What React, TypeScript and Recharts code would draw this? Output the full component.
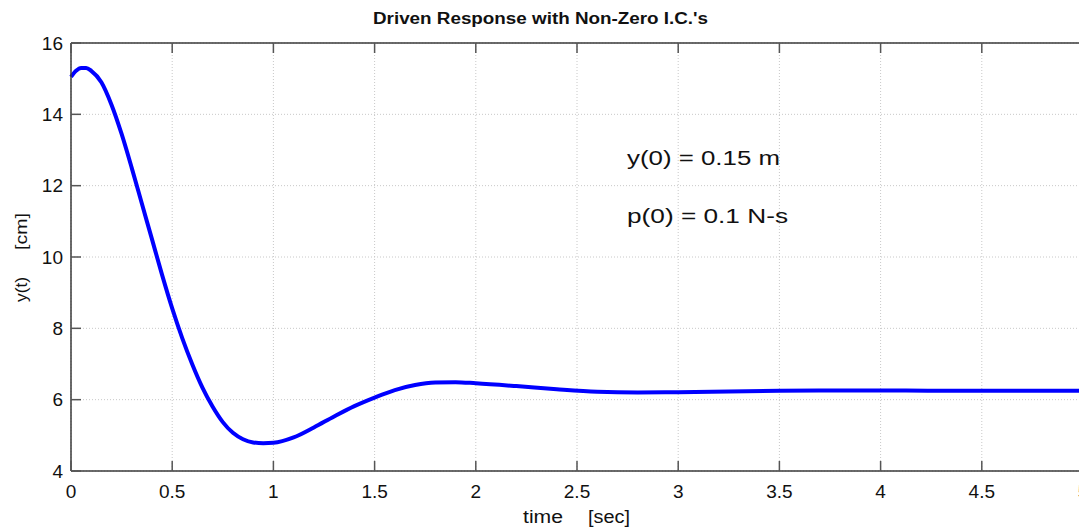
import { LineChart, Line, XAxis, YAxis, CartesianGrid } from 'recharts';

const times = [
  0, 0.025, 0.05, 0.075, 0.1, 0.15, 0.2, 0.25, 0.3, 0.35, 0.4, 0.45, 0.5, 0.55, 0.6, 0.65, 0.7,
  0.75, 0.8, 0.85, 0.9, 0.95, 1.0, 1.1, 1.2, 1.3, 1.4, 1.5, 1.6, 1.7, 1.8, 1.9,
  2.0, 2.2, 2.4, 2.6, 2.8, 3.0, 3.25, 3.5, 3.75, 4.0, 4.25, 4.5, 4.75, 5.0,
];
const response = [
  15.05, 15.22, 15.3, 15.3, 15.22, 14.9, 14.27, 13.45, 12.5, 11.5, 10.5, 9.5, 8.56, 7.72, 6.98, 6.33, 5.8,
  5.37, 5.07, 4.89, 4.8, 4.78, 4.79, 4.94, 5.22, 5.53, 5.82, 6.06, 6.27, 6.41, 6.48, 6.49,
  6.46, 6.38, 6.29, 6.22, 6.2, 6.21, 6.23, 6.25, 6.26, 6.26, 6.25, 6.25, 6.25, 6.25,
];
const xTicks = [0, 0.5, 1, 1.5, 2, 2.5, 3, 3.5, 4, 4.5, 5];
const yTicks = [4, 6, 8, 10, 12, 14, 16];

const data = times.map((t, i) => ({ t, y: response[i] }));

const FONT = '"Liberation Sans", Arial, sans-serif';
const AXIS = '#3a3a3a';
const TICK_LEN = 10;

const BottomTick = ({ x, y, payload }: any) => (
  <g>
    <line x1={x} y1={y} x2={x} y2={y - TICK_LEN} stroke="#555" strokeWidth={1.5} />
    <text x={x} y={y + 20} textAnchor="middle" dominantBaseline="central" fontSize={19} fontFamily={FONT} fill="#111">
      {payload.value}
    </text>
  </g>
);

const LeftTick = ({ x, y, payload }: any) => (
  <g>
    <line x1={x} y1={y} x2={x + TICK_LEN} y2={y} stroke="#555" strokeWidth={1.5} />
    <text x={x - 8} y={y} textAnchor="end" dominantBaseline="central" fontSize={19} fontFamily={FONT} fill="#111">
      {payload.value}
    </text>
  </g>
);

const TopTick = ({ x, y }: any) => (
  <line x1={x} y1={y} x2={x} y2={y + TICK_LEN} stroke="#555" strokeWidth={1.5} />
);

const RightTick = ({ x, y }: any) => (
  <line x1={x} y1={y} x2={x - TICK_LEN} y2={y} stroke="#555" strokeWidth={1.5} />
);

export default function App() {
  return (
    <div style={{ position: 'absolute', left: 0, top: 0, width: 1079, height: 527, overflow: 'hidden', background: '#fff' }}>
      <LineChart width={1100} height={527} data={data} margin={{ top: 0, right: 0, bottom: 0, left: 0 }}>
        <CartesianGrid xAxisId="bottom" yAxisId="left" stroke="#c8c8c8" strokeDasharray="1 2" />
        <XAxis
          xAxisId="bottom"
          dataKey="t"
          type="number"
          domain={[0, 5]}
          ticks={xTicks}
          height={56}
          tickSize={0}
          tickMargin={0}
          tickLine={false}
          stroke={AXIS}
          strokeWidth={1.5}
          tick={<BottomTick />}
          interval={0}
        />
        <XAxis
          xAxisId="top"
          orientation="top"
          dataKey="t"
          type="number"
          domain={[0, 5]}
          ticks={xTicks}
          height={43}
          tickSize={0}
          tickMargin={0}
          tickLine={false}
          stroke={AXIS}
          strokeWidth={1.5}
          tick={<TopTick />}
          interval={0}
        />
        <YAxis
          yAxisId="left"
          type="number"
          domain={[4, 16]}
          ticks={yTicks}
          width={71}
          tickSize={0}
          tickMargin={0}
          tickLine={false}
          stroke={AXIS}
          strokeWidth={1.5}
          tick={<LeftTick />}
          interval={0}
        />
        <YAxis
          yAxisId="right"
          orientation="right"
          type="number"
          domain={[4, 16]}
          ticks={yTicks}
          width={17}
          tickSize={0}
          tickMargin={0}
          tickLine={false}
          stroke={AXIS}
          strokeWidth={1.5}
          tick={<RightTick />}
          interval={0}
        />
        <Line
          xAxisId="bottom"
          yAxisId="left"
          dataKey="y"
          type="monotone"
          stroke="#0000ff"
          strokeWidth={4}
          dot={false}
          isAnimationActive={false}
        />
      </LineChart>
      <svg width={1079} height={527} style={{ position: 'absolute', left: 0, top: 0, pointerEvents: 'none' }}>
        <text x={373} y={18} dominantBaseline="central" fontSize={16} fontWeight="bold" fontFamily={FONT} fill="#111" textLength={335} lengthAdjust="spacingAndGlyphs">
          Driven Response with Non-Zero I.C.'s
        </text>
        <text x={627} y={158} dominantBaseline="central" fontSize={20} fontFamily={FONT} fill="#111" textLength={153} lengthAdjust="spacingAndGlyphs">
          y(0) = 0.15 m
        </text>
        <text x={627} y={216} dominantBaseline="central" fontSize={20} fontFamily={FONT} fill="#111" textLength={161} lengthAdjust="spacingAndGlyphs">
          p(0) = 0.1 N-s
        </text>
        <text x={523} y={517} dominantBaseline="central" fontSize={18} fontFamily={FONT} fill="#111" textLength={40} lengthAdjust="spacingAndGlyphs">
          time
        </text>
        <text x={588} y={517} dominantBaseline="central" fontSize={18} fontFamily={FONT} fill="#111" textLength={42} lengthAdjust="spacingAndGlyphs">
          [sec]
        </text>
        <g transform="translate(21, 0) rotate(-90)">
          <text x={-302} y={0} dominantBaseline="central" fontSize={17} fontFamily={FONT} fill="#111" textLength={25} lengthAdjust="spacingAndGlyphs">
            y(t)
          </text>
          <text x={-250} y={0} dominantBaseline="central" fontSize={17} fontFamily={FONT} fill="#111" textLength={37} lengthAdjust="spacingAndGlyphs">
            [cm]
          </text>
        </g>
      </svg>
    </div>
  );
}
